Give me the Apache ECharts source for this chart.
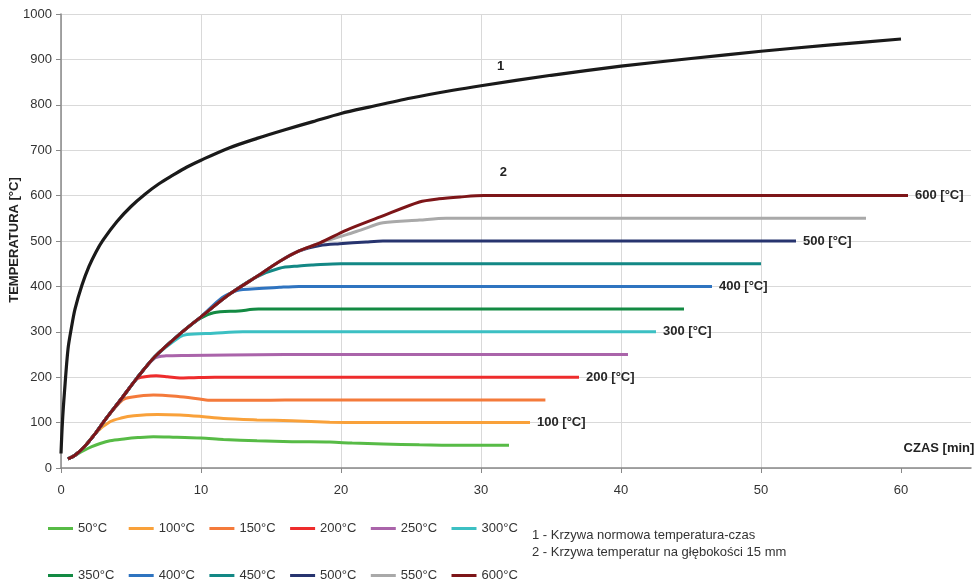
<!DOCTYPE html>
<html>
<head>
<meta charset="utf-8">
<script src="https://cdn.jsdelivr.net/npm/echarts@6/dist/echarts.min.js"></script>
<style>
html,body{margin:0;padding:0;background:#fff;}
#chart{width:979px;height:581px;}
</style>
</head>
<body>
<div id="chart"></div>
<script>
// ---- data ----
const xTicks = [0, 10, 20, 30, 40, 50, 60];
const seriesNames = ['50°C','100°C','150°C','200°C','250°C','300°C','350°C','400°C','450°C','500°C','550°C','600°C'];
const endLabelTexts = ['', '100 [°C]', '', '200 [°C]', '', '300 [°C]', '', '400 [°C]', '', '500 [°C]', '', '600 [°C]'];
const curveNotes = ['1 - Krzywa normowa temperatura-czas', '2 - Krzywa temperatur na głębokości 15 mm'];
const yAxisTitle = 'TEMPERATURA [°C]';
const xAxisTitle = 'CZAS [min]';

// curve 1: standard fire curve (time [min], temperature [°C])
const isoCurve = [[0,32],[0.1,100],[0.25,168],[0.5,262],[0.75,310],[1,350],[1.5,403],[2,444],[2.5,476],[3,502],[4,543],[5,576],[6,603],[7,626],[8,645],[9,663],[10,678],[12,705],[14,726],[16,745],[18,763],[20,781],[22,795],[25,815],[28,832],[30,842],[35,865],[40,885],[45,902],[50,918],[55,932],[60,945]];

// common heating curve at 15 mm (curve 2)
const rise = [[0.5,20],[1.0,28],[1.7,48],[2.5,78],[3.2,108],[4.3,152],[5.4,197],[6.7,245],[8.6,298],[10.0,333],[12.0,382],[13.9,420],[15.6,455],[17.0,478],[18.5,496],[20.4,524],[22.8,553],[25.6,586],[27.0,593],[28.5,597],[30.2,600]];
// number of points of the common curve shared by each series
const riseCount = [2, 4, 5, 6, 7, 8, 9, 10, 12, 14, 15, 21];
// individual tails
const tail50  = [[1.6,38],[2.2,47],[2.8,54],[3.5,60],[4.5,64],[5.5,67],[6.6,69],[8.0,68],[10.0,66],[11.6,63],[14.0,60],[16.5,58],[19.2,57],[20.8,55],[23.0,53],[25.6,51],[28.8,50],[32.0,50]];
const tail100 = [[3.5,102],[4.3,110],[5.2,115],[6.9,118],[8.5,117],[9.9,114],[11.6,109],[14.0,106],[16.5,104],[19.2,101],[21.5,100],[33.5,100]];
const tail150 = [[4.4,150],[5.0,156],[6.6,161],[8.5,157],[9.9,152],[10.5,149],[13.0,149],[16.0,150],[34.6,150]];
const tail200 = [[5.4,196],[6.0,201],[6.8,203],[7.6,201],[8.5,198],[9.5,199],[11.0,200],[37.0,200]];
const tail250 = [[6.7,242],[7.5,247],[9.0,248],[12.0,249],[16.0,250],[40.5,250]];
const tail300 = [[8.5,289],[9.0,294],[10.9,297],[13.0,300],[42.5,300]];
const tail350 = [[9.9,329],[10.9,342],[12.7,346],[14.1,350],[44.5,350]];
const tail400 = [[11.5,375],[12.5,390],[13.0,393],[15.6,398],[17.0,400],[46.5,400]];
const tail450 = [[15.6,440],[17.0,445],[18.0,447],[20.0,450],[50.0,450]];
const tail500 = [[18.5,490],[19.9,494],[21.8,498],[23.0,500],[52.5,500]];
const tail550 = [[20.4,514],[21.4,524],[23.0,540],[25.6,546],[27.5,550],[57.5,550]];
const tail600 = [[60.5,600]];
const tails = [tail50, tail100, tail150, tail200, tail250, tail300, tail350, tail400, tail450, tail500, tail550, tail600];

// ---- styles ----
const colors = ['#57bb46','#f9a13a','#f47a3b','#ee2c2c','#aa64aa','#3cc0c3','#138a43','#2f74c0','#138885','#27346f','#a9a9a9','#7d1518'];
const FONT = "'Liberation Sans', Arial, sans-serif";

const series = seriesNames.map((name, i) => ({
  name: name,
  type: 'line',
  data: rise.slice(0, riseCount[i]).concat(tails[i]),
  showSymbol: false,
  symbol: 'none',
  smooth: 0.3,
  lineStyle: { width: 3, color: colors[i] },
  itemStyle: { color: colors[i] },
  z: 2 + i,
  endLabel: endLabelTexts[i] ? {
    show: true,
    formatter: () => endLabelTexts[i],
    distance: 7,
    color: '#262626',
    fontWeight: 'bold',
    fontSize: 13,
    fontFamily: FONT
  } : { show: false }
}));

series.push({
  name: 'iso',
  type: 'line',
  data: isoCurve,
  showSymbol: false,
  symbol: 'none',
  smooth: 0.3,
  lineStyle: { width: 3.2, color: '#1a1a1a' },
  itemStyle: { color: '#1a1a1a' },
  z: 20,
  markPoint: {
    symbol: 'circle',
    symbolSize: 0,
    silent: true,
    label: { show: true, position: 'inside', formatter: '{b}', fontWeight: 'bold', fontSize: 13, color: '#222', fontFamily: FONT },
    data: [
      { name: '1', coord: [31.4, 885] },
      { name: '2', coord: [31.6, 651] }
    ]
  }
});

// one legend per item so that items sit on a regular pitch like the reference
const legends = seriesNames.map((name, i) => ({
  data: [name],
  left: 48 + (i % 6) * 80.7,
  top: i < 6 ? 522 : 569,
  icon: 'rect',
  itemWidth: 25,
  itemHeight: 3,
  padding: 0,
  textStyle: { fontSize: 13, color: '#333', fontFamily: FONT }
}));

const option = {
  animation: false,
  textStyle: { fontFamily: FONT },
  grid: { left: 61, right: 8, top: 14, bottom: 113, containLabel: false, outerBoundsMode: 'none' },
  xAxis: {
    type: 'value',
    min: 0, max: 65, interval: 10,
    axisLine: { show: true, lineStyle: { color: '#888', width: 1.5 } },
    axisTick: { show: true, length: 5, lineStyle: { color: '#888' }, customValues: xTicks },
    axisLabel: { fontSize: 13, color: '#333', margin: 16, customValues: xTicks, fontFamily: FONT, formatter: v => String(v) },
    splitLine: { show: true, showMaxLine: false, lineStyle: { color: '#d9d9d9', width: 1 } }
  },
  yAxis: {
    type: 'value',
    min: 0, max: 1000, interval: 100,
    axisLine: { show: true, lineStyle: { color: '#888', width: 1.5 } },
    axisTick: { show: true, length: 5, lineStyle: { color: '#888' } },
    axisLabel: { fontSize: 13, color: '#333', margin: 9, fontFamily: FONT, formatter: v => String(v) },
    splitLine: { show: true, lineStyle: { color: '#d9d9d9', width: 1 } }
  },
  legend: legends,
  graphic: [
    { type: 'text', x: 14, y: 240, rotation: Math.PI / 2, style: { text: yAxisTitle, font: "bold 13px 'Liberation Sans', Arial", fill: '#222', align: 'center', verticalAlign: 'middle' } },
    { type: 'text', x: 939, y: 448, style: { text: xAxisTitle, font: "bold 13px 'Liberation Sans', Arial", fill: '#222', align: 'center', verticalAlign: 'middle' } },
    { type: 'text', x: 532, y: 535, style: { text: curveNotes[0], font: "13px 'Liberation Sans', Arial", fill: '#333', verticalAlign: 'middle' } },
    { type: 'text', x: 532, y: 552, style: { text: curveNotes[1], font: "13px 'Liberation Sans', Arial", fill: '#333', verticalAlign: 'middle' } }
  ],
  series: series
};

const chart = echarts.init(document.getElementById('chart'), null, { renderer: 'canvas' });
chart.setOption(option);
</script>
</body>
</html>
